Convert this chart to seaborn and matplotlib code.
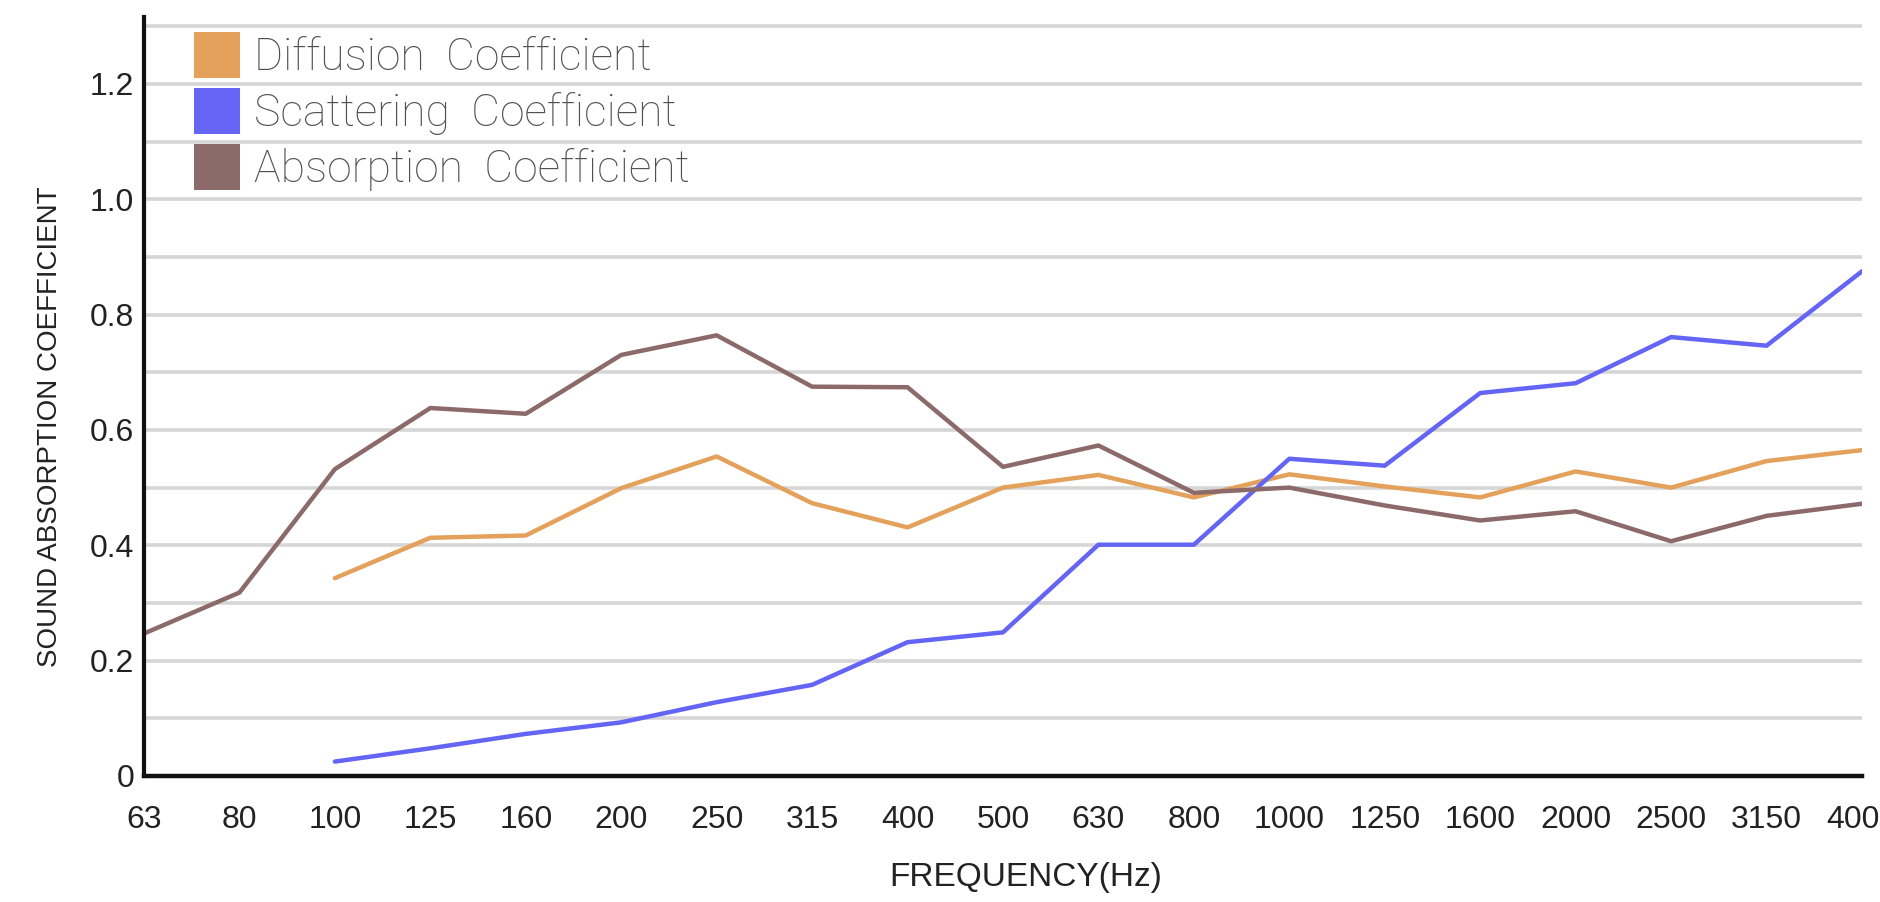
import numpy as np
import pandas as pd
import matplotlib
matplotlib.use("Agg")
import matplotlib.pyplot as plt
from matplotlib.patches import Patch
import seaborn as sns

# data
frequencies = ["63", "80", "100", "125", "160", "200", "250", "315", "400", "500",
               "630", "800", "1000", "1250", "1600", "2000", "2500", "3150", "4000"]
diffusion = [None, None, 0.343, 0.413, 0.417, 0.499, 0.554, 0.473, 0.431, 0.500,
             0.522, 0.483, 0.523, 0.502, 0.483, 0.528, 0.500, 0.546, 0.565]
scattering = [None, None, 0.025, 0.048, 0.073, 0.093, 0.128, 0.158, 0.232, 0.249,
              0.401, 0.401, 0.550, 0.538, 0.664, 0.681, 0.761, 0.746, 0.875]
absorption = [0.247, 0.318, 0.532, 0.638, 0.628, 0.730, 0.764, 0.675, 0.674, 0.536,
              0.573, 0.491, 0.500, 0.469, 0.443, 0.459, 0.407, 0.451, 0.472]

series_names = ["Diffusion  Coefficient", "Scattering  Coefficient", "Absorption  Coefficient"]
series_colors = ["#E3A15B", "#6464F5", "#8C6A6A"]

y_ticks = [0, 0.2, 0.4, 0.6, 0.8, 1.0, 1.2]
y_tick_labels = ["0", "0.2", "0.4", "0.6", "0.8", "1.0", "1.2"]
grid_levels = [0.1, 0.3, 0.5, 0.7, 0.9, 1.1, 1.3]

# long table for seaborn
rows = []
for name, values in zip(series_names, [diffusion, scattering, absorption]):
    for i, v in enumerate(values):
        if v is not None:
            rows.append({"pos": i, "value": v, "series": name})
df = pd.DataFrame(rows)

sns.set_style("white")
plt.rcParams["font.family"] = ["Liberation Sans Narrow", "Liberation Sans", "DejaVu Sans"]

fig = plt.figure(figsize=(18.8, 9.02), dpi=100)
ax = fig.add_axes([0.0766, 0.1397, 0.9138, 0.8415])

palette = dict(zip(series_names, series_colors))
sns.lineplot(data=df, x="pos", y="value", hue="series", palette=palette,
             hue_order=series_names, linewidth=3.2, legend=False, ax=ax, sort=False)

ax.set_xlim(0, len(frequencies) - 1)
ax.set_ylim(0, 1.316)

# grid every 0.1
ax.set_yticks(y_ticks)
ax.set_yticklabels(y_tick_labels)
ax.set_yticks(grid_levels, minor=True)
ax.yaxis.grid(True, which="both", color="#d6d6d6", linewidth=2.6)
ax.xaxis.grid(False)
ax.set_axisbelow(True)

ax.set_xticks(range(len(frequencies)))
ax.set_xticklabels(frequencies)

ax.tick_params(axis="y", which="both", length=0, pad=7, labelsize=23, labelcolor="#222222")
ax.tick_params(axis="x", length=12, width=2.4, color="#111111", pad=9,
               labelsize=23, labelcolor="#222222", direction="out")

for side in ["top", "right"]:
    ax.spines[side].set_visible(False)
ax.spines["left"].set_linewidth(3)
ax.spines["bottom"].set_linewidth(3.2)
ax.spines["left"].set_color("#111111")
ax.spines["bottom"].set_color("#111111")

ax.set_xlabel("FREQUENCY(Hz)", fontsize=24, color="#222222")
ax.xaxis.set_label_coords(0.513, -0.113)
ax.set_ylabel("SOUND ABSORPTION COEFFICIENT", fontsize=20, color="#222222",
              family=["Liberation Sans", "DejaVu Sans"])
ax.yaxis.set_label_coords(-0.047, 0.46)

handles = [Patch(facecolor=c, edgecolor="none") for c in series_colors]
leg = ax.legend(handles, series_names, loc="upper left", bbox_to_anchor=(0.029, 0.98),
                frameon=False, borderpad=0, borderaxespad=0,
                handlelength=1.036, handleheight=1.217, handletextpad=0.315,
                labelspacing=0.2,
                prop={"family": ["Roboto", "DejaVu Sans"], "weight": "light", "size": 32})
for t in leg.get_texts():
    t.set_color("#505050")

fig.savefig("out.png", dpi=100)
